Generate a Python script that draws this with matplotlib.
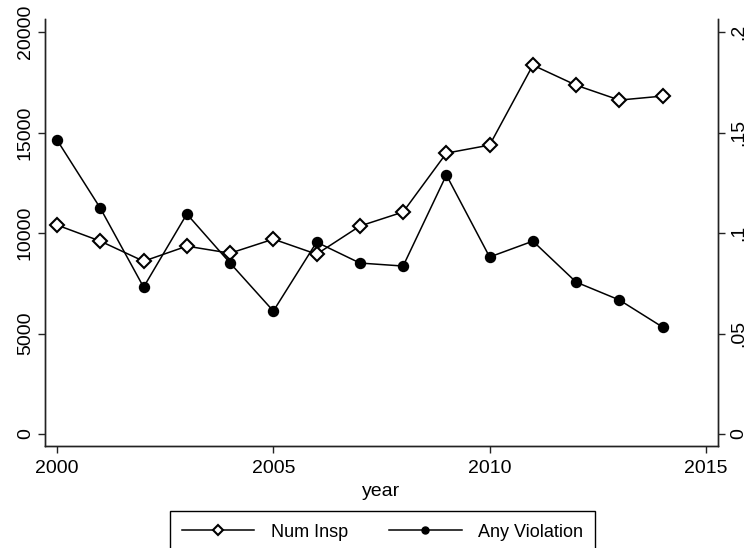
import matplotlib
matplotlib.use("Agg")
import matplotlib.pyplot as plt

plt.rcParams['font.family'] = ['Liberation Sans', 'DejaVu Sans']

# values
years = [2000, 2001, 2002, 2003, 2004, 2005, 2006, 2007,
         2008, 2009, 2010, 2011, 2012, 2013, 2014]
num_insp = [10400, 9600, 8600, 9350, 9000, 9700, 8950, 10350,
            11050, 13980, 14380, 18360, 17360, 16620, 16820]
any_violation = [0.1463, 0.1124, 0.0731, 0.1095, 0.0851, 0.0612, 0.0955, 0.0851,
                 0.0836, 0.1289, 0.0881, 0.0960, 0.0756, 0.0667, 0.0532]

left_ticks = [0, 5000, 10000, 15000, 20000]
left_labels = ["0", "5000", "10000", "15000", "20000"]
right_ticks = [0, 0.05, 0.1, 0.15, 0.2]
right_labels = ["0", ".05", ".1", ".15", ".2"]
x_ticks = [2000, 2005, 2010, 2015]

fig = plt.figure(figsize=(7.47, 5.48), dpi=100)
ax = fig.add_axes([0.0602, 0.186, 0.901, 0.779])
ax2 = ax.twinx()

l1, = ax.plot(years, num_insp, color="black", lw=1.1, marker="D", ms=7.3,
              mfc="white", mec="black", mew=1.5, zorder=3)
l2, = ax2.plot(years, any_violation, color="black", lw=1.1, marker="o", ms=7.2,
               mfc="black", mec="black", zorder=3)

# both y axes share the same pixel scale: 0 and top tick line up
ax.set_xlim(1999.72, 2015.28)
ax.set_ylim(-600, 20647)
ax2.set_ylim(-0.0060, 0.20647)

ax.set_xticks(x_ticks)
ax.set_xticklabels([str(t) for t in x_ticks])
ax.set_yticks(left_ticks)
ax.set_yticklabels(left_labels, rotation=90, va="center")
ax2.set_yticks(right_ticks)
ax2.set_yticklabels(right_labels, rotation=90, va="center")

for a in (ax, ax2):
    a.spines["top"].set_visible(False)
    for s in ("left", "right", "bottom"):
        a.spines[s].set_color("#222222")
        a.spines[s].set_linewidth(1.0)
    a.tick_params(direction="out", length=5, width=1.0, labelsize=14,
                  color="#222222")

ax.tick_params(axis="y", pad=3)
ax2.tick_params(axis="y", pad=4)
ax.tick_params(axis="x", pad=5)
ax.set_xlabel("year", fontsize=14, labelpad=4.5)

# legend box sits at the bottom edge, partly cut off like the original
fig.legend([l1, l2], ["Num Insp", "Any Violation"], loc="upper center",
           bbox_to_anchor=(0.512, 0.0675), ncol=2, fontsize=13,
           frameon=True, fancybox=False, edgecolor="black", framealpha=1,
           handlelength=4.0, handletextpad=0.9, columnspacing=2.3,
           borderpad=0.7, borderaxespad=0, markerscale=0.7)

fig.savefig("out.png", dpi=100)
